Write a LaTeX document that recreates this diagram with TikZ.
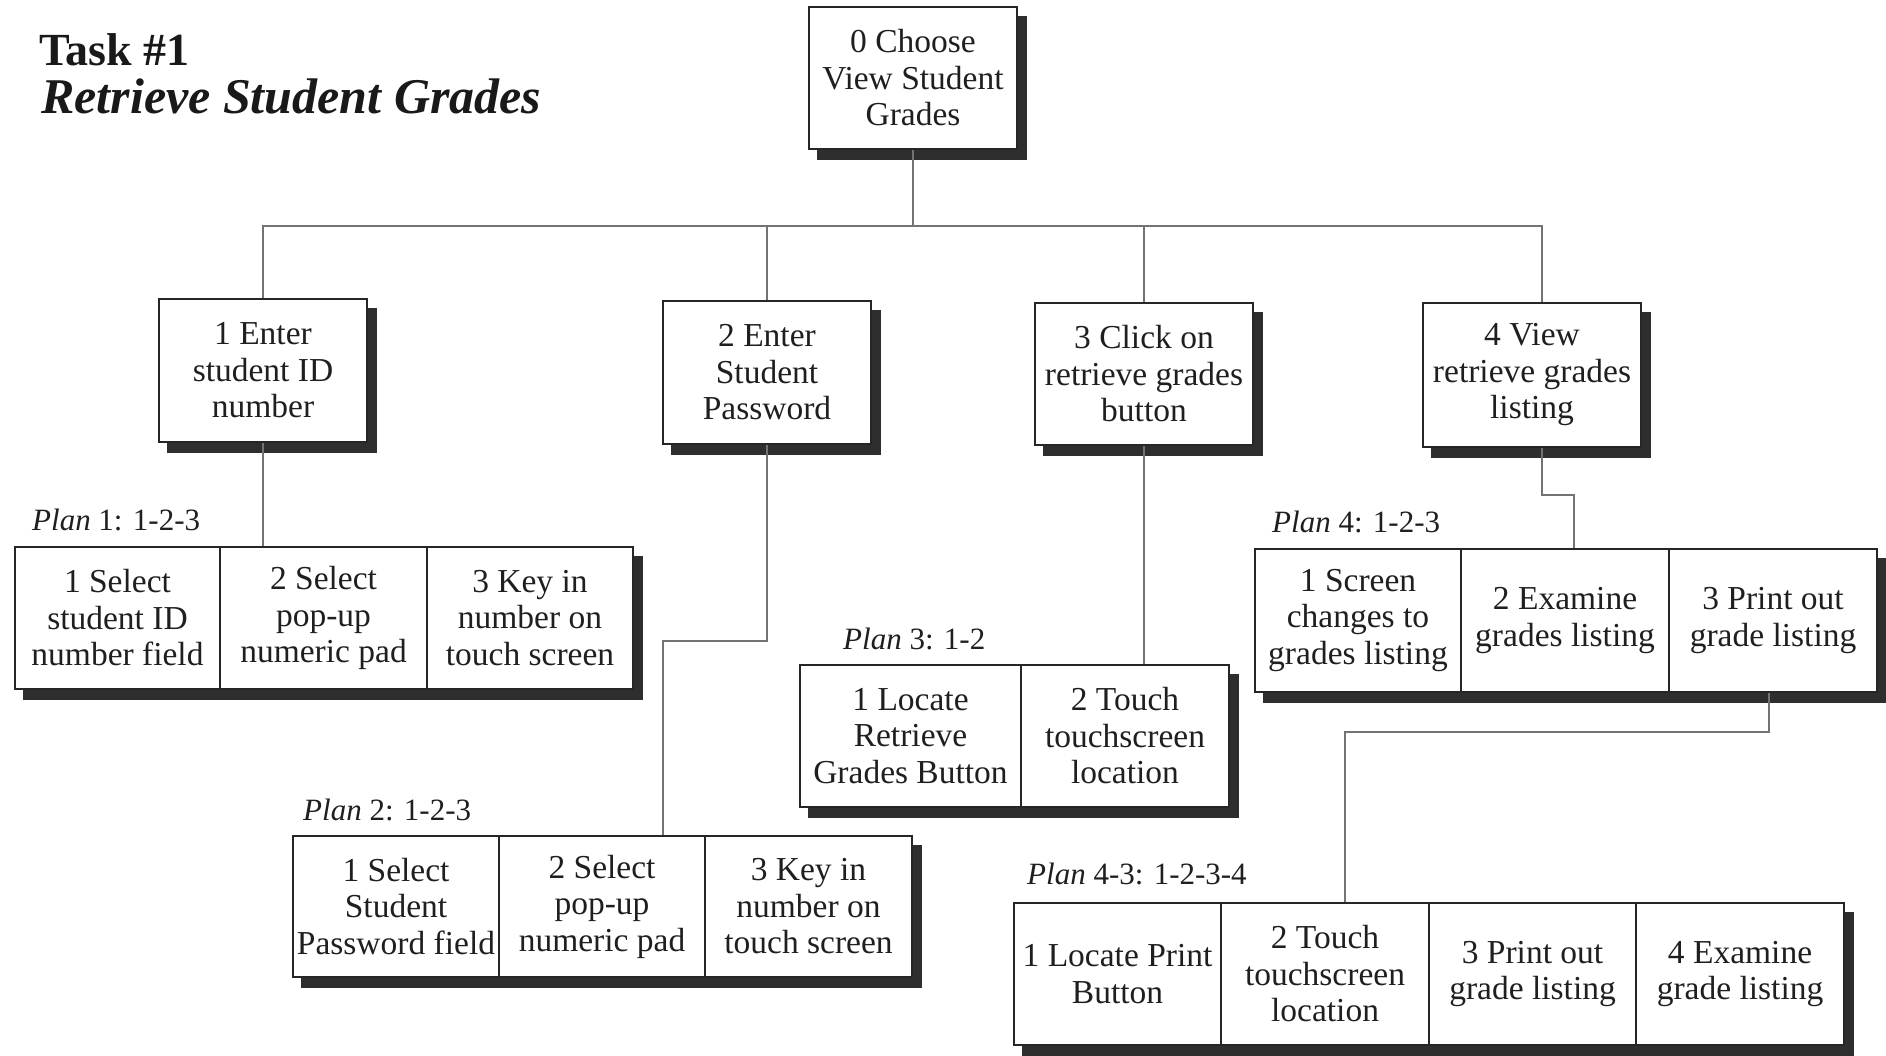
\documentclass[tikz,border=0pt]{standalone}
\usepackage{fontspec}
\setmainfont{Liberation Serif}
\usetikzlibrary{backgrounds,calc}
\newcommand{\boxfont}{\fontsize{33.5}{36.5}\selectfont}
\newcommand{\planfont}{\fontsize{31}{34}\selectfont}
\tikzset{
  box/.style={draw=black!85, line width=1.6pt, fill=white, inner sep=0pt,
    align=center, font=\boxfont, text=black!88},
  conn/.style={draw=black!55, line width=2.2pt},
  shadowfill/.style={fill=black!82},
  planlabel/.style={anchor=base west, inner sep=0pt, font=\planfont, text=black!88},
  titlelabel/.style={anchor=base west, inner sep=0pt, text=black!90},
}
\begin{document}
\begin{tikzpicture}[x=1pt, y=-1pt]
\useasboundingbox (0,0) rectangle (1886,1055);

% Title
\node[titlelabel, font=\fontsize{46}{48}\selectfont\bfseries] (t1) at (39,65) {Task \#1};
\node[titlelabel, font=\fontsize{50}{52}\selectfont\bfseries\itshape] (t2) at (41,113) {Retrieve Student Grades};

% Level 0 and 1
\node[box, minimum width=208pt, minimum height=142pt] (b0) at (913,78) {0 Choose\\View Student\\Grades};
\node[box, minimum width=208pt, minimum height=143pt] (b1) at (263,370.5) {1 Enter\\student ID\\number};
\node[box, minimum width=208pt, minimum height=143pt] (b2) at (767,372.5) {2 Enter\\Student\\Password};
\node[box, minimum width=218pt, minimum height=142pt] (b3) at (1144,374) {3 Click on\\retrieve grades\\button};
\node[box, minimum width=218pt, minimum height=144pt] (b4) at (1532,375) {4 View\\retrieve grades\\listing};

% Plan 1
\node[planlabel] (l1) at (32,530) {\textit{Plan} 1: 1-2-3};
\node[box, minimum width=205pt, minimum height=142pt] (p11) at (117.5,618) {1 Select\\student ID\\number field};
\node[box, minimum width=207pt, minimum height=142pt] (p12) at (323.5,618) {2 Select\\pop-up\\numeric pad};
\node[box, minimum width=206pt, minimum height=142pt] (p13) at (530,618) {3 Key in\\number on\\touch screen};

% Plan 2
\node[planlabel] (l2) at (303,820) {\textit{Plan} 2: 1-2-3};
\node[box, minimum width=206pt, minimum height=141pt] (p21) at (396,906.5) {1 Select\\Student\\Password field};
\node[box, minimum width=206pt, minimum height=141pt] (p22) at (602,906.5) {2 Select\\pop-up\\numeric pad};
\node[box, minimum width=207pt, minimum height=141pt] (p23) at (808.5,906.5) {3 Key in\\number on\\touch screen};

% Plan 3
\node[planlabel] (l3) at (843,649) {\textit{Plan} 3: 1-2};
\node[box, minimum width=221pt, minimum height=142pt] (p31) at (910.5,736) {1 Locate\\Retrieve\\Grades Button};
\node[box, minimum width=208pt, minimum height=142pt] (p32) at (1125,736) {2 Touch\\touchscreen\\location};

% Plan 4
\node[planlabel] (l4) at (1272,532) {\textit{Plan} 4: 1-2-3};
\node[box, minimum width=206pt, minimum height=143pt] (p41) at (1358,620.5) {1 Screen\\changes to\\grades listing};
\node[box, minimum width=208pt, minimum height=143pt] (p42) at (1565,620.5) {2 Examine\\grades listing};
\node[box, minimum width=208pt, minimum height=143pt] (p43) at (1773,620.5) {3 Print out\\grade listing};

% Plan 4-3
\node[planlabel] (l43) at (1027,884) {\textit{Plan} 4-3: 1-2-3-4};
\node[box, minimum width=207pt, minimum height=142pt] (q1) at (1117.5,974) {1 Locate Print\\Button};
\node[box, minimum width=208pt, minimum height=142pt] (q2) at (1325,974) {2 Touch\\touchscreen\\location};
\node[box, minimum width=207pt, minimum height=142pt] (q3) at (1532.5,974) {3 Print out\\grade listing};
\node[box, minimum width=208pt, minimum height=142pt] (q4) at (1740,974) {4 Examine\\grade listing};

% Connectors
\coordinate (bus) at (913,226);
\coordinate (j2) at (663,641);
\coordinate (j4) at (1574,495);
\coordinate (j43) at (1345,732);
\draw[conn] (b0.south) -- (bus);
\draw[conn] (b1.north) |- (bus);
\draw[conn] (b2.north) |- (bus);
\draw[conn] (b3.north) |- (bus);
\draw[conn] ([xshift=10pt]b4.north) |- (bus);
\draw[conn] (b1.south) -- (b1.south |- p12.north);
\draw[conn] (b2.south) |- (j2) -- (j2 |- p22.north);
\draw[conn] (b3.south) -- (b3.south |- p32.north);
\draw[conn] ([xshift=10pt]b4.south) |- (j4) -- (j4 |- p42.north);
\draw[conn] ([xshift=-4pt]p43.south) |- (j43) -- (j43 |- q2.north);

% Background and shadows
\begin{scope}[on background layer]
\fill[white] (0,0) rectangle (1886,1055);
\foreach \a/\b in {b0/b0, b1/b1, b2/b2, b3/b3, b4/b4, p11/p13, p21/p23, p31/p32, p41/p43, q1/q4}
  \fill[shadowfill] ([shift={(9pt,-10pt)}]\a.south west) rectangle ([shift={(9pt,-10pt)}]\b.north east);
\end{scope}
\end{tikzpicture}
\end{document}
